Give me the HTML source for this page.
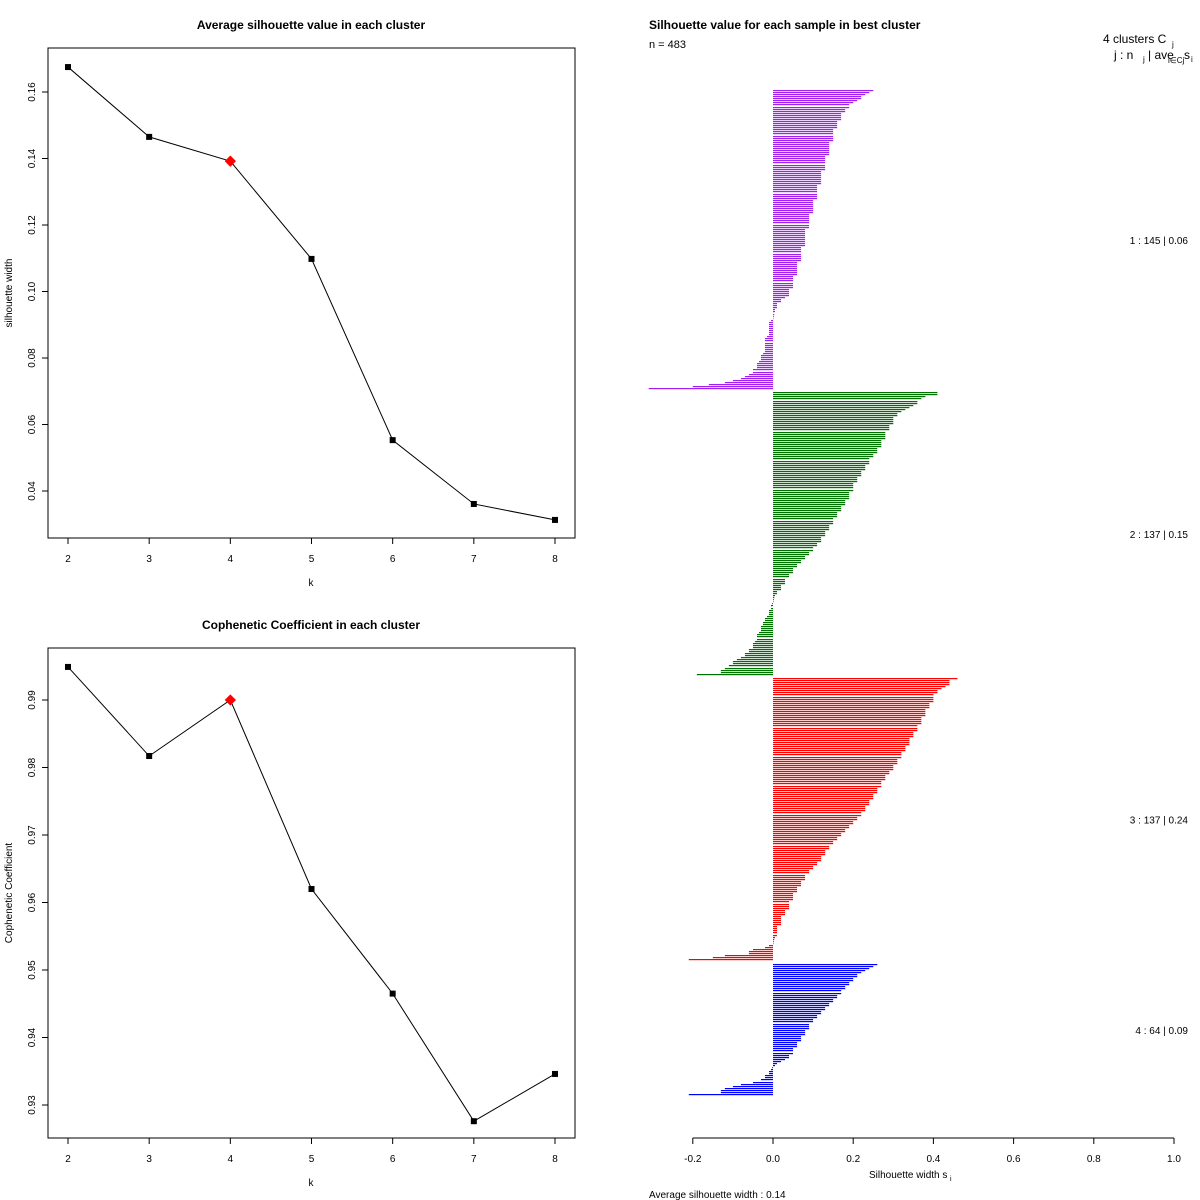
<!DOCTYPE html>
<html><head><meta charset="utf-8"><style>
html,body{margin:0;padding:0;background:#fff;}
svg{display:block;font-family:"Liberation Sans",sans-serif;}
</style></head><body>
<svg id="root" width="1200" height="1200" viewBox="0 0 1200 1200" xmlns="http://www.w3.org/2000/svg">
<g id="p1"></g>
<g id="p2"></g>
<g id="p3"></g>
</svg>
<script>
const ks = [2,3,4,5,6,7,8];
const silValues = [0.1675,0.1465,0.1392,0.1098,0.0553,0.0361,0.0313];
const silTicks = [0.04,0.06,0.08,0.10,0.12,0.14,0.16];
const silTickLabels = ["0.04","0.06","0.08","0.10","0.12","0.14","0.16"];
const copValues = [0.9949,0.9817,0.9900,0.9620,0.9465,0.9276,0.9346];
const copTicks = [0.93,0.94,0.95,0.96,0.97,0.98,0.99];
const copTickLabels = ["0.93","0.94","0.95","0.96","0.97","0.98","0.99"];
const bestK = 4;

const c1 = [.25,.24,.23,.22,.22,.21,.20,.19,.19,.18,
.18,.17,.17,.17,.17,.16,.16,.16,.16,.15,
.15,.15,.15,.15,.15,.14,.14,.14,.14,.14,
.14,.14,.13,.13,.13,.13,.13,.13,.13,.12,
.12,.12,.12,.12,.12,.12,.11,.11,.11,.11,
.11,.11,.11,.10,.10,.10,.10,.10,.10,.10,
.09,.09,.09,.09,.09,.09,.09,.08,.08,.08,
.08,.08,.08,.08,.08,.08,.07,.07,.07,.07,
.07,.07,.07,.06,.06,.06,.06,.06,.06,.06,
.05,.05,.05,.05,.05,.05,.04,.04,.04,.04,
.03,.02,.02,.01,.01,.01,.005,.005,.003,.002,
.001,-.005,-.01,-.01,-.01,-.01,-.01,-.01,-.01,-.015,
-.02,-.02,-.02,-.02,-.02,-.02,-.02,-.025,-.03,-.03,
-.03,-.035,-.04,-.04,-.04,-.05,-.05,-.06,-.07,-.08,
-.1,-.12,-.16,-.2,-.31];
const c2 = [.41,.41,.38,.37,.36,.36,.35,.34,.33,.32,
.31,.31,.30,.30,.30,.30,.29,.29,.29,.28,
.28,.28,.28,.27,.27,.27,.27,.26,.26,.26,
.25,.25,.24,.24,.24,.23,.23,.23,.22,.22,
.22,.21,.21,.21,.20,.20,.20,.20,.19,.19,
.19,.19,.18,.18,.18,.17,.17,.17,.16,.16,
.16,.15,.15,.15,.14,.14,.14,.13,.13,.13,
.12,.12,.12,.11,.11,.10,.10,.09,.09,.08,
.08,.07,.07,.06,.06,.05,.05,.05,.04,.04,
.03,.03,.03,.02,.02,.02,.01,.01,.005,.003,
.002,.001,-.002,-.005,-.005,-.01,-.01,-.01,-.015,-.02,
-.02,-.025,-.025,-.03,-.03,-.03,-.035,-.04,-.04,-.04,
-.045,-.05,-.05,-.05,-.06,-.06,-.07,-.07,-.08,-.09,
-.1,-.1,-.11,-.12,-.13,-.13,-.19];
const c3 = [.46,.44,.44,.44,.43,.42,.41,.41,.40,.40,
.40,.40,.39,.39,.39,.38,.38,.38,.38,.37,
.37,.37,.37,.36,.36,.36,.35,.35,.35,.34,
.34,.34,.34,.33,.33,.33,.32,.32,.32,.31,
.31,.31,.30,.30,.30,.29,.29,.28,.28,.28,
.27,.27,.27,.26,.26,.26,.25,.25,.25,.24,
.24,.24,.23,.23,.23,.22,.22,.21,.21,.20,
.20,.19,.19,.18,.18,.17,.17,.16,.16,.15,
.15,.14,.14,.13,.13,.13,.12,.12,.12,.11,
.11,.10,.10,.09,.09,.08,.08,.08,.07,.07,
.07,.06,.06,.06,.05,.05,.05,.05,.04,.04,
.04,.04,.03,.03,.03,.02,.02,.02,.02,.02,
.01,.01,.01,.01,.01,.005,.003,.002,.001,
-.01,-.02,-.05,-.06,-.06,-.12,-.15,-.21];
const c4 = [.26,.25,.24,.23,.22,.21,.21,.20,.20,.19,
.19,.18,.18,.17,.17,.16,.16,.15,.15,.14,
.14,.13,.13,.12,.12,.11,.11,.10,.10,.09,
.09,.09,.08,.08,.08,.07,.07,.07,.06,.06,
.06,.05,.05,.05,.04,.04,.03,.02,.01,.005,
-.002,-.005,-.01,-.01,-.02,-.02,-.03,-.05,-.08,-.1,
-.12,-.13,-.13,-.21];
const clusterLabels = ["1 :   145   |  0.06","2 :   137   |  0.15","3 :   137   |  0.24","4 :   64   |  0.09"];
const clusterColors = ["#a020f0","#007000","#ff0000","#0000ff"];
const silXTicks = [-0.2,0,0.2,0.4,0.6,0.8,1.0];
const silXTickLabels = ["-0.2","0.0","0.2","0.4","0.6","0.8","1.0"];

const NS = "http://www.w3.org/2000/svg";
function mk(parent, tag, attrs, text){
  const e = document.createElementNS(NS, tag);
  for (const k in attrs) e.setAttribute(k, attrs[k]);
  if (text !== undefined) e.textContent = text;
  parent.appendChild(e);
  return e;
}

function linePanel(g, top, vals, ticks, tickLabels, vLo, yLo, vHi, yHi, title, ytitle, prefix){
  const L=48,R=575,T=top,B=top+490;
  const xS = k => 68 + (k-2)*(555-68)/6;
  const yS = v => yLo + (v-vLo)*(yHi-yLo)/(vHi-vLo);
  let e = mk(g,'rect',{x:L,y:T,width:R-L,height:B-T,fill:'none',stroke:'#000','stroke-width':1});
  
  
  e = mk(g,'text',{x:311,y:top-19,'text-anchor':'middle','font-size':12,'font-weight':'bold'},title);
  
  
  ks.forEach(k=>{
    const x=xS(k);
    mk(g,'line',{x1:x,y1:B,x2:x,y2:B+6,stroke:'#000'});
    e = mk(g,'text',{x:x,y:B+24,'text-anchor':'middle','font-size':10},String(k));
    
    
  });
  e = mk(g,'text',{x:311,y:B+48,'text-anchor':'middle','font-size':10},'k');
  
  
  ticks.forEach((t,i)=>{
    const y=yS(t);
    mk(g,'line',{x1:L-6,y1:y,x2:L,y2:y,stroke:'#000'});
    e = mk(g,'text',{x:0,y:0,'text-anchor':'middle','font-size':10,transform:`translate(${L-13},${y}) rotate(-90)`},tickLabels[i]);
    
    
  });
  e = mk(g,'text',{x:0,y:0,'text-anchor':'middle','font-size':10,transform:`translate(12,${(T+B)/2}) rotate(-90)`},ytitle);
  
  
  const pts = ks.map((k,i)=>xS(k)+','+yS(vals[i])).join(' ');
  e = mk(g,'polyline',{points:pts,fill:'none',stroke:'#000','stroke-width':1});
  
  
  ks.forEach((k,i)=>{
    const x=xS(k), y=yS(vals[i]);
    if (k===bestK){
      e = mk(g,'rect',{x:x-4,y:y-4,width:8,height:8,fill:'#ff0000',transform:`rotate(45 ${x} ${y})`});
      
    } else {
      e = mk(g,'rect',{x:x-3,y:y-3,width:6,height:6,fill:'#000'});
      
    }
    
  });
}

linePanel(document.getElementById('p1'),48,silValues,silTicks,silTickLabels,0.04,491,0.16,92,'Average silhouette value in each cluster','silhouette width','avg-sil');
linePanel(document.getElementById('p2'),648,copValues,copTicks,copTickLabels,0.93,1105,0.99,700,'Cophenetic Coefficient in each cluster','Cophenetic Coefficient','coph');

(function(){
  const g = document.getElementById('p3');
  const x0 = 773, pxPer = 80.2/0.2;
  const xS = v => x0 + v*pxPer;
  const pitch = 2.07, startY = 90;
  const clusters = [c1,c2,c3,c4];
  let row = 0;
  let e;
  clusters.forEach((vals,ci)=>{
    const firstRow = row;
    vals.forEach(v=>{
      const y = Math.round(startY + row*pitch);
      const xa = Math.min(xS(0),xS(v)), xb = Math.max(xS(0),xS(v));
      e = mk(g,'rect',{x:xa,y:y,width:Math.max(xb-xa,0.5),height:1.2,fill:clusterColors[ci]});
      
      
      row++;
    });
    const midY = startY + (firstRow + vals.length/2)*pitch;
    e = mk(g,'text',{x:1188,y:midY+4,'text-anchor':'end','font-size':10,'xml:space':'preserve'},clusterLabels[ci]);
    
    
    row++;
  });
  e = mk(g,'line',{x1:xS(-0.2),y1:1138,x2:xS(1.0),y2:1138,stroke:'#000'});
  
  
  silXTicks.forEach((t,i)=>{
    const x=xS(t);
    mk(g,'line',{x1:x,y1:1138,x2:x,y2:1144,stroke:'#000'});
    e = mk(g,'text',{x:x,y:1162,'text-anchor':'middle','font-size':10},silXTickLabels[i]);
    
    
  });
  e = mk(g,'text',{x:649,y:29,'font-size':12,'font-weight':'bold'},'Silhouette value for each sample in best cluster');
  
  
  e = mk(g,'text',{x:649,y:48,'font-size':11},'n = 483');
  
  
  e = mk(g,'text',{x:1103,y:43,'font-size':12,'xml:space':'preserve'},'4  clusters  C');
  
  
  mk(g,'text',{x:1172,y:47,'font-size':8},'j');
  e = mk(g,'text',{x:1114,y:59,'font-size':12,'xml:space':'preserve'},'j :  n');
  
  
  mk(g,'text',{x:1143,y:62,'font-size':8},'j');
  mk(g,'text',{x:1148,y:59,'font-size':12},'| ave');
  mk(g,'text',{x:1168,y:63,'font-size':8},'i∈Cj');
  mk(g,'text',{x:1184,y:59,'font-size':12},'s');
  mk(g,'text',{x:1191,y:62,'font-size':8},'i');
  e = mk(g,'text',{x:869,y:1178,'font-size':10},'Silhouette width s');
  
  
  mk(g,'text',{x:950,y:1181,'font-size':7},'i');
  e = mk(g,'text',{x:649,y:1198,'font-size':10,'xml:space':'preserve'},'Average silhouette width :  0.14');
  
  
})();
</script>
</body></html>
